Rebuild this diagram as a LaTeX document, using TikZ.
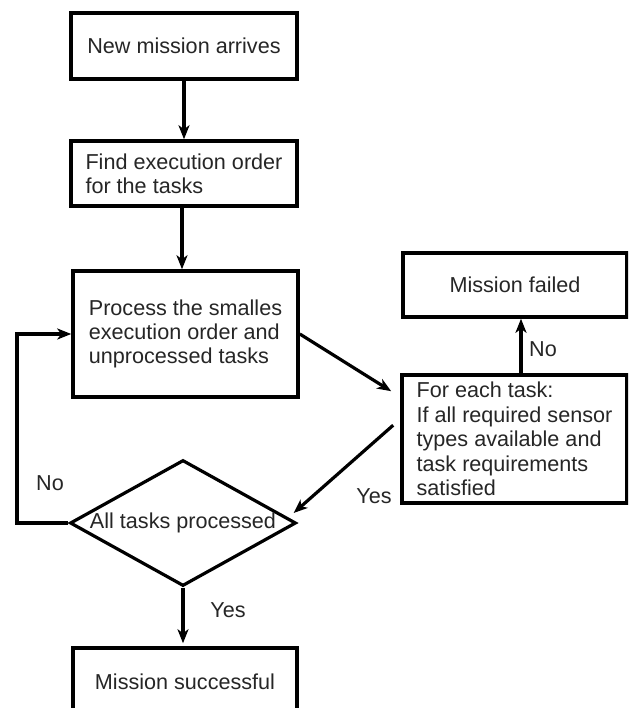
\documentclass[tikz,border=0pt]{standalone}
\usepackage{fontspec}
\setmainfont{Liberation Sans}
\usetikzlibrary{arrows.meta,shapes.geometric,calc}
\begin{document}
\begin{tikzpicture}[x=0.5pt,y=-0.5pt,
  txt/.style={font=\fontsize{10.8}{12.2}\selectfont,text=black!85},
  box/.style={txt,draw,line width=1.8pt,align=left,inner sep=0pt},
  flow/.style={line width=1.6pt,-{Stealth[length=7pt,width=5.5pt,inset=2pt]}},
  lbl/.style={txt,inner sep=0pt}]
\clip (0,0) rectangle (628,708);
\fill[white] (0,0) rectangle (628,708);
\node[box,minimum width=113pt,minimum height=33pt] (b1) at (184,46) {New mission arrives};
\node[box,minimum width=113pt,minimum height=32.5pt] (b2) at (184,173.5) {Find execution order\\for the tasks};
\node[box,minimum width=112.5pt,minimum height=63pt] (b3) at (185.5,334) {Process the smalles\\execution order and\\unprocessed tasks};
\node[box,minimum width=112pt,minimum height=32pt] (fail) at (515,285) {Mission failed};
\node[box,minimum width=112.5pt,minimum height=64pt] (check) at (514.5,439) {For each task:\\If all required sensor\\types available and\\task requirements\\satisfied};
\node[txt,draw,diamond,aspect=1.8,line width=1.6pt,inner sep=0pt,minimum width=113pt,minimum height=63pt] (dia) at (183,523) {All tasks processed};
\node[box,minimum width=112pt,minimum height=34pt] (succ) at (185,682) {Mission successful};
\coordinate (loop) at (17,523);
\coordinate (c1) at ($(check.north west)+(-9,18)$);
\coordinate (c2) at ($(check.north west)+(-7,52)$);
\coordinate (d1) at ($(dia.east)+(-4,-10)$);
\draw[flow] (b1) -- (b2);
\draw[flow] ([xshift=-1pt]b2.south) -- ([xshift=-1pt]b2.south |- b3.north);
\draw[flow] (b3.east) -- (c1);
\draw[flow] (c2) -- (d1);
\draw[flow] ([xshift=3.25pt]check.north) -- ([xshift=3.25pt]check.north |- fail.south);
\draw[flow] (dia.west) -- (loop) |- (b3.west);
\draw[flow] (dia.south) -- ($(succ.north)+(-2,-3)$);
\node[lbl] (lno1) at (543,349) {No};
\node[lbl] (lyes1) at (374,496) {Yes};
\node[lbl] (lno2) at (50,483) {No};
\node[lbl] (lyes2) at (228,610) {Yes};
\end{tikzpicture}
\end{document}
